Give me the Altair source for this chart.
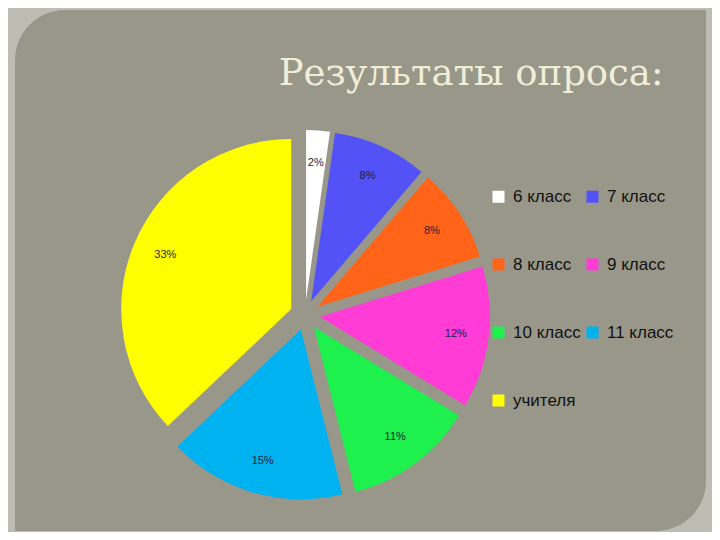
import altair as alt
import pandas as pd

# ---- data ----
categories = ["6 класс", "7 класс", "8 класс", "9 класс", "10 класс", "11 класс", "учителя"]
values = [2, 8, 8, 12, 11, 15, 33]
labels = ["2%", "8%", "8%", "12%", "11%", "15%", "33%"]
colors = ["#ffffff", "#5252f7", "#ff6418", "#ff3cd6", "#1ef04e", "#00b2f0", "#ffff00"]
# legend entries laid out in two columns (column-major fill)
legend_order = ["6 класс", "8 класс", "10 класс", "учителя", "7 класс", "9 класс", "11 класс"]
title_text = "Результаты опроса:"

# ---- layout / style ----
W, H = 704, 524
CX, CY = 297, 307
R = 170
EXPLODE = 15
LABEL_R = 152

df = pd.DataFrame({
    "category": categories,
    "value": values,
    "label": labels,
    "idx": list(range(len(categories))),
})

base = (
    alt.Chart(df)
    .transform_joinaggregate(total="sum(value)")
    .transform_window(cum="sum(value)", sort=[alt.SortField("idx", order="ascending")], frame=[None, 0])
    .transform_calculate(
        t0="2*PI*(datum.cum - datum.value)/datum.total",
        t1="2*PI*datum.cum/datum.total",
    )
    .transform_calculate(mid="(datum.t0 + datum.t1)/2")
    .transform_calculate(
        ax=f"{CX} + {EXPLODE}*sin(datum.mid)",
        ay=f"{CY} - {EXPLODE}*cos(datum.mid)",
        lx=f"{CX} + {LABEL_R}*sin(datum.mid)",
        ly=f"{CY} - {LABEL_R}*cos(datum.mid)",
    )
)

legend = alt.Legend(
    title=None,
    orient="none",
    legendX=482,
    legendY=180,
    columns=2,
    values=legend_order,
    symbolType="square",
    symbolSize=144,
    symbolStrokeWidth=0,
    labelFontSize=17,
    labelFont="Liberation Sans",
    labelColor="#111111",
    labelOffset=6,
    rowPadding=50,
    columnPadding=3,
    padding=0,
    labelLimit=300,
)

arcs = base.mark_arc(radius=R, strokeWidth=0).encode(
    theta=alt.Theta("t0:Q", scale=None, stack=None),
    theta2=alt.Theta2("t1:Q"),
    x=alt.X("ax:Q", scale=None, axis=None, stack=None),
    y=alt.Y("ay:Q", scale=None, axis=None, stack=None),
    color=alt.Color("category:N", scale=alt.Scale(domain=categories, range=colors), legend=legend),
    order=alt.Order("idx:Q"),
)

texts = base.mark_text(fontSize=11, font="Liberation Sans", color="#1e1e3c").encode(
    x=alt.X("lx:Q", scale=None, axis=None),
    y=alt.Y("ly:Q", scale=None, axis=None),
    text="label:N",
)

bg = alt.Chart(pd.DataFrame({"a": [0]})).mark_rect(
    color="#98978a", cornerRadiusTopLeft=50, cornerRadiusBottomRight=50
).encode(x=alt.value(7), x2=alt.value(698), y=alt.value(2), y2=alt.value(523))

tdf = pd.DataFrame({"t": [title_text]})
title = alt.Chart(tdf).mark_text(
    font="DejaVu Serif", fontSize=37, color="#f0eed8", align="center", baseline="alphabetic"
).encode(text="t:N", x=alt.value(463), y=alt.value(77))

chart = (
    alt.layer(bg, arcs, texts, title)
    .properties(
        width=W,
        height=H,
        autosize=alt.AutoSizeParams(type="none"),
        padding=0,
        background="#bdbdb3",
    )
    .configure_view(stroke="transparent")
)

chart.save("out.html", embed_options={"renderer": "svg", "actions": False})
